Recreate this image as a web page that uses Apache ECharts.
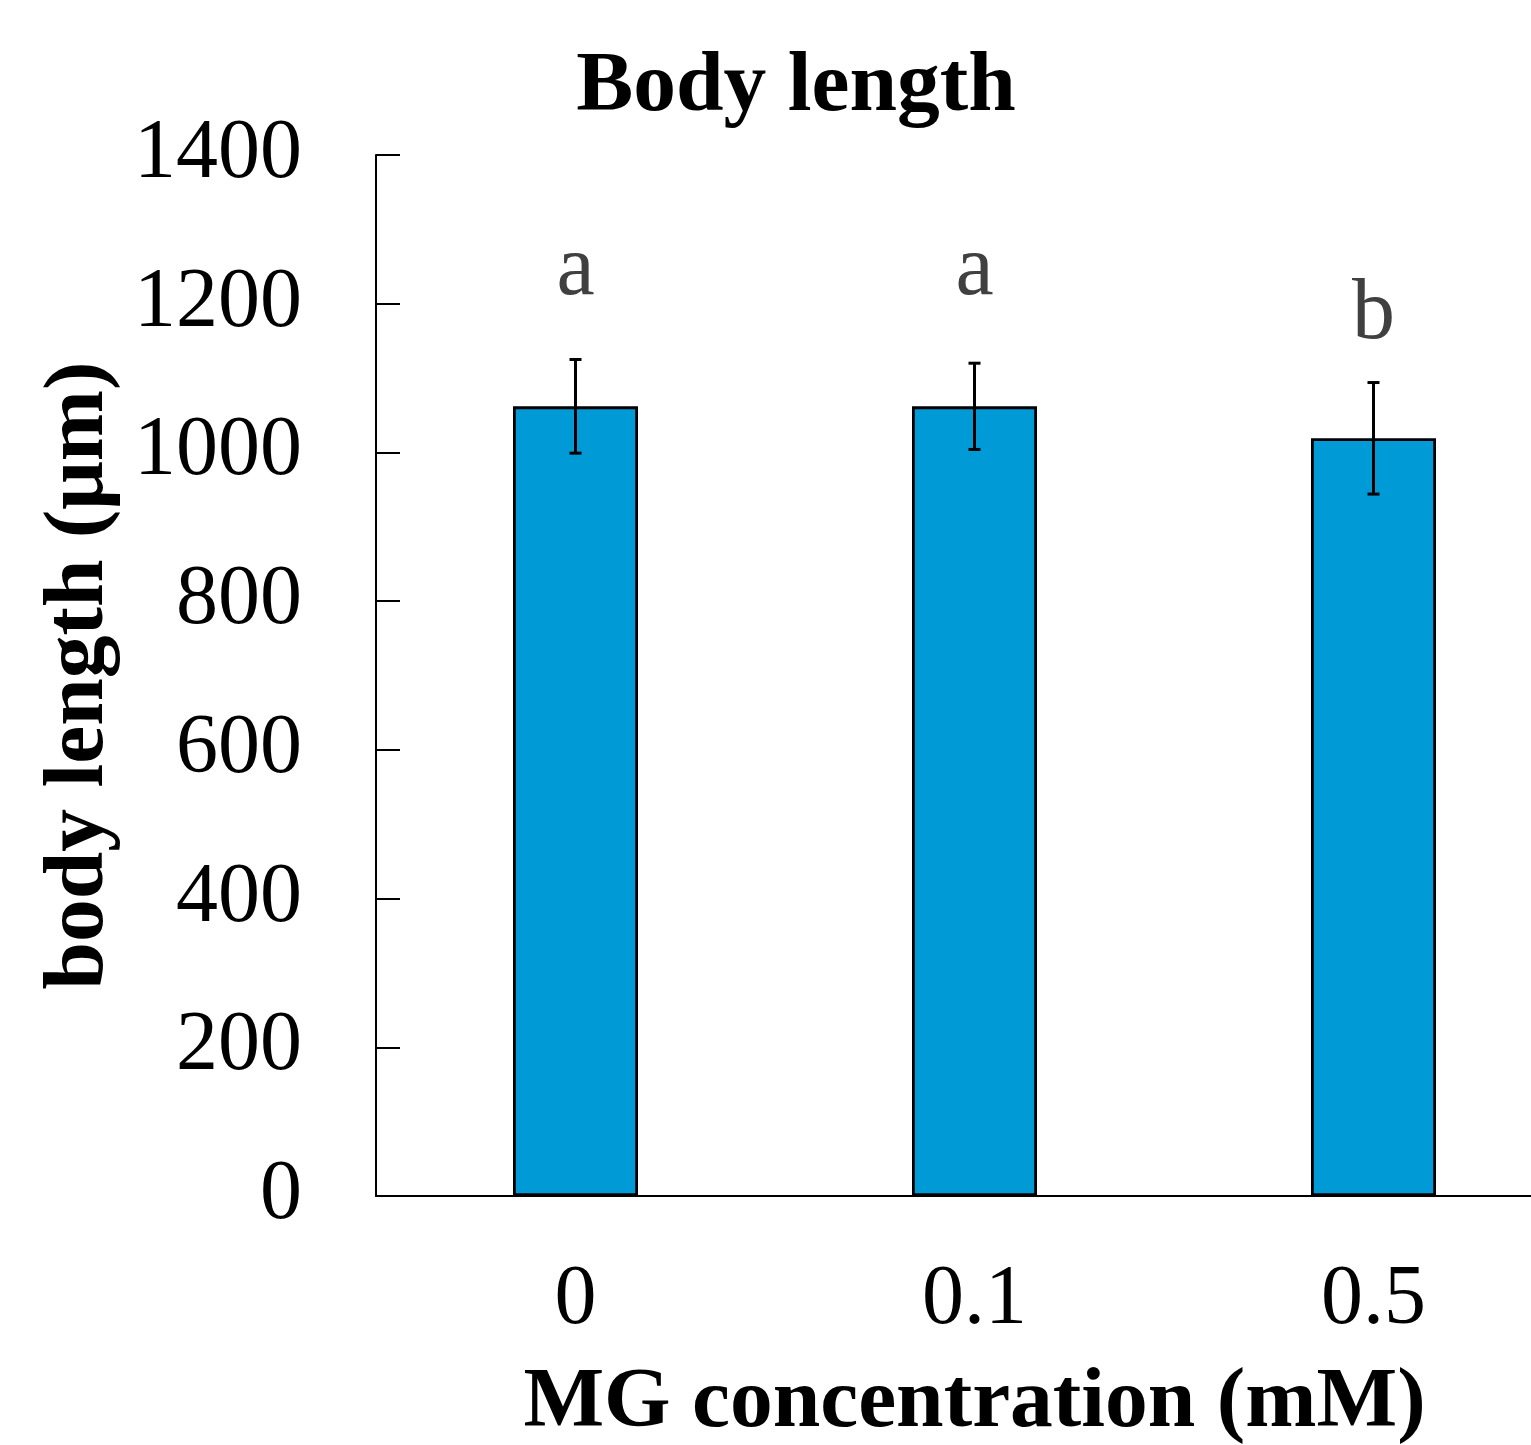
<!DOCTYPE html>
<html><head><meta charset="utf-8">
<script src="https://cdn.jsdelivr.net/npm/echarts@6/dist/echarts.min.js"></script>
<style>html,body{margin:0;padding:0;background:#fff}#c{width:1531px;height:1445px}</style>
</head><body><div id="c"></div>
<script>
const categories = ['0', '0.1', '0.5'];
const means = [1062, 1062, 1019];
const errors = [63, 58, 75];
const letters = ['a', 'a', 'b'];
const letterY = [1210, 1210, 1151];
const yTicks = [0, 200, 400, 600, 800, 1000, 1200, 1400];

const FONT = '"Liberation Serif", "Times New Roman", serif';
const chart = echarts.init(document.getElementById('c'), null, {renderer: 'canvas'});
chart.setOption({
  backgroundColor: '#fff',
  animation: false,
  title: {
    text: 'Body length', left: 791, top: 40, textAlign: 'center',
    textStyle: {fontFamily: FONT, fontWeight: 'bold', fontSize: 85.5, color: '#000'}
  },
  grid: {left: 376, top: 155, bottom: 249, width: 1197, containLabel: false, outerBoundsMode: 'none'},
  xAxis: {
    type: 'category', data: categories,
    axisLine: {lineStyle: {color: '#000', width: 2}},
    axisTick: {show: false},
    axisLabel: {fontFamily: FONT, fontSize: 84, color: '#000', margin: 63},
    name: 'MG concentration (mM)', nameLocation: 'middle', nameGap: 165,
    nameTextStyle: {fontFamily: FONT, fontWeight: 'bold', fontSize: 85.5, color: '#000'}
  },
  yAxis: {
    type: 'value', min: yTicks[0], max: yTicks[yTicks.length - 1], interval: 200,
    axisLine: {show: true, lineStyle: {color: '#000', width: 2}},
    axisTick: {show: true, inside: true, length: 24, lineStyle: {color: '#000', width: 2}},
    splitLine: {show: false},
    axisLabel: {fontFamily: FONT, fontSize: 84, color: '#000', margin: 74, formatter: v => String(v)},
    name: 'body length (μm)', nameLocation: 'middle', nameGap: 222, nameRotate: 90,
    nameTextStyle: {fontFamily: FONT, fontWeight: 'bold', fontSize: 85.5, color: '#000'}
  },
  series: [
    {
      type: 'bar', data: means, barWidth: 125,
      itemStyle: {color: '#009AD7', borderColor: '#000', borderWidth: 2.8}
    },
    {
      type: 'custom',
      data: means.map((m, i) => [i, m - errors[i], m + errors[i]]),
      renderItem: function (params, api) {
        const lo = api.coord([api.value(0), api.value(1)]);
        const hi = api.coord([api.value(0), api.value(2)]);
        const w = 6;
        const style = {stroke: '#000', lineWidth: 3};
        return {type: 'group', children: [
          {type: 'line', shape: {x1: hi[0], y1: hi[1], x2: lo[0], y2: lo[1]}, style},
          {type: 'line', shape: {x1: hi[0] - w, y1: hi[1], x2: hi[0] + w, y2: hi[1]}, style},
          {type: 'line', shape: {x1: lo[0] - w, y1: lo[1], x2: lo[0] + w, y2: lo[1]}, style}
        ]};
      },
      z: 5
    },
    {
      type: 'scatter', symbolSize: 0, itemStyle: {opacity: 1},
      data: letterY.map((y, i) => ({value: [i, y], label: {formatter: letters[i]}})),
      label: {show: true, position: 'inside', verticalAlign: 'bottom', fontFamily: FONT, fontSize: 86, color: '#404040', offset: [0, 18]}
    }
  ]
});
</script></body></html>
